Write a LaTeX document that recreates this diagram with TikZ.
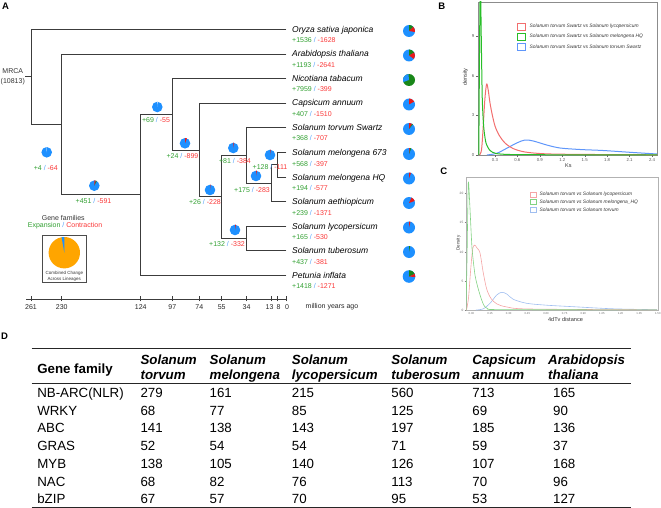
\documentclass[tikz,border=0pt]{standalone}
\usepackage{fontspec}
\setmainfont{Liberation Sans}

\definecolor{treegray}{RGB}{60,60,60}
\definecolor{gaincol}{RGB}{50,160,50}
\definecolor{losscol}{RGB}{250,55,55}
\definecolor{slashcol}{RGB}{80,160,250}
\definecolor{pieblue}{RGB}{30,144,255}
\definecolor{piegreen}{RGB}{25,135,25}
\definecolor{piered}{RGB}{235,25,25}
\definecolor{pieorange}{RGB}{255,165,0}
\definecolor{curveBred}{RGB}{242,110,110}
\definecolor{curveBgreen}{RGB}{40,190,40}
\definecolor{curveBblue}{RGB}{95,150,250}
\definecolor{curveCred}{RGB}{245,165,165}
\definecolor{curveCgreen}{RGB}{130,210,130}
\definecolor{curveCblue}{RGB}{160,190,240}

\newcommand{\gainloss}[2]{\textcolor{gaincol}{+#1}\ \textcolor{slashcol}{/}\ \textcolor{losscol}{-#2}}
\newcommand{\pieslice}[5]{%
  \fill [#5] (#1) -- ++({-(#3)}:#2)
  arc [start angle = {-(#3)}, end angle = {-(#4)}, radius = #2] -- cycle;}

\begin{document}
\begin{tikzpicture}[
    x = 1pt, y = -1pt,
    branch/.style = {draw = treegray, line width = 0.8pt, line cap = rect},
    tipname/.style = {anchor = base west, inner sep = 0pt,
      font = \fontsize{8.5}{10}\selectfont\itshape},
    tipcount/.style = {anchor = base west, inner sep = 0pt,
      font = \fontsize{7}{8}\selectfont},
    nodecount/.style = {inner sep = 0pt, font = \fontsize{7}{8}\selectfont},
    smalltext/.style = {inner sep = 0pt, text = black!80,
      font = \fontsize{7}{10}\selectfont},
    panel/.style = {inner sep = 0pt, font = \fontsize{9.5}{10}\selectfont\bfseries},
    plotframe/.style = {draw = black!45, line width = 0.4pt},
    tinylabel/.style = {inner sep = 0pt, text = black!65,
      font = \fontsize{4.3}{5}\selectfont},
    legendtext/.style = {anchor = west, inner sep = 0pt, text = black!80,
      font = \fontsize{4.9}{6}\selectfont},
    keybox/.style = {inner sep = 0pt, fill = white, line width = 0.9pt},
    densityB/.style = {line width = 1pt, line join = round},
    densityC/.style = {line width = 0.6pt, line join = round},
    tablehead/.style = {anchor = base west, inner sep = 0pt,
      font = \fontsize{13.3}{15}\selectfont\bfseries\itshape},
    tablecell/.style = {anchor = base west, inner sep = 0pt,
      font = \fontsize{13.3}{15}\selectfont},
    tablerule/.style = {draw = black!85, line width = 1.1pt},
    tablemidrule/.style = {draw = black!85, line width = 0.6pt}
    ]
    \useasboundingbox (0, 0) rectangle (661, 508);

    % ---------------- panel A: tree
    \node at (5.5, 6.7) [panel, name = panA] {A};

    \coordinate (tOry) at (286, 29.5);
    \coordinate (tAra) at (286, 54);
    \coordinate (tNic) at (286, 78.5);
    \coordinate (tCap) at (286, 103);
    \coordinate (tTor) at (286, 127.5);
    \coordinate (tM673) at (286, 152.5);
    \coordinate (tMHQ) at (286, 177);
    \coordinate (tAet) at (286, 201.5);
    \coordinate (tLyc) at (286, 226);
    \coordinate (tTub) at (286, 250.5);
    \coordinate (tPet) at (286, 275);

    \coordinate (n8) at (277, 164.75);
    \coordinate (n13) at (271, 183.1);
    \coordinate (n34a) at (246.5, 155.3);
    \coordinate (n34b) at (246.5, 238.25);
    \coordinate (n55) at (221.7, 196.8);
    \coordinate (n74) at (199.3, 149.9);
    \coordinate (n97) at (172.3, 114.2);
    \coordinate (n124) at (140.7, 194.6);
    \coordinate (n230) at (61.7, 124.3);
    \coordinate (n261) at (31, 76.9);

    \draw [branch] (n261) |- (tOry);
    \draw [branch] (n261) |- (n230);
    \draw [branch] (n230) |- (tAra);
    \draw [branch] (n230) |- (n124);
    \draw [branch] (n124) |- (n97);
    \draw [branch] (n124) |- (tPet);
    \draw [branch] (n97) |- (tNic);
    \draw [branch] (n97) |- (n74);
    \draw [branch] (n74) |- (tCap);
    \draw [branch] (n74) |- (n55);
    \draw [branch] (n55) |- (n34a);
    \draw [branch] (n55) |- (n34b);
    \draw [branch] (n34a) |- (tTor);
    \draw [branch] (n34a) |- (n13);
    \draw [branch] (n13) |- (n8);
    \draw [branch] (n13) |- (tAet);
    \draw [branch] (n8) |- (tM673);
    \draw [branch] (n8) |- (tMHQ);
    \draw [branch] (n34b) |- (tLyc);
    \draw [branch] (n34b) |- (tTub);

    \node at (12.8, 76.9) [smalltext, align = center, name = mrca] {MRCA\\(10813)};
    \draw [branch] (mrca.east) -- (n261);

    % species and their counts
    \node at (292, 32.5) [tipname, name = lOry] {Oryza sativa japonica};
    \node at (292, 43) [tipcount, name = cOry] {\gainloss{1536}{1628}};
    \node at (292, 57) [tipname, name = lAra] {Arabidopsis thaliana};
    \node at (292, 67.5) [tipcount, name = cAra] {\gainloss{1193}{2641}};
    \node at (292, 81.5) [tipname, name = lNic] {Nicotiana tabacum};
    \node at (292, 92) [tipcount, name = cNic] {\gainloss{7959}{399}};
    \node at (292, 106) [tipname, name = lCap] {Capsicum annuum};
    \node at (292, 116.5) [tipcount, name = cCap] {\gainloss{407}{1510}};
    \node at (292, 130.5) [tipname, name = lTor] {Solanum torvum Swartz};
    \node at (292, 141) [tipcount, name = cTor] {\gainloss{368}{707}};
    \node at (292, 155.5) [tipname, name = lM673] {Solanum melongena 673};
    \node at (292, 166) [tipcount, name = cM673] {\gainloss{568}{397}};
    \node at (292, 180) [tipname, name = lMHQ] {Solanum melongena HQ};
    \node at (292, 190.5) [tipcount, name = cMHQ] {\gainloss{194}{577}};
    \node at (292, 204.5) [tipname, name = lAet] {Solanum aethiopicum};
    \node at (292, 215) [tipcount, name = cAet] {\gainloss{239}{1371}};
    \node at (292, 229) [tipname, name = lLyc] {Solanum lycopersicum};
    \node at (292, 239.5) [tipcount, name = cLyc] {\gainloss{165}{530}};
    \node at (292, 253.5) [tipname, name = lTub] {Solanum tuberosum};
    \node at (292, 264) [tipcount, name = cTub] {\gainloss{437}{381}};
    \node at (292, 278) [tipname, name = lPet] {Petunia inflata};
    \node at (292, 288.5) [tipcount, name = cPet] {\gainloss{1418}{1271}};

    % pies of the species
    \coordinate (qOry) at (409, 31);
    \coordinate (qAra) at (409, 55.5);
    \coordinate (qNic) at (409, 80);
    \coordinate (qCap) at (409, 104.5);
    \coordinate (qTor) at (409, 129);
    \coordinate (qM673) at (409, 154);
    \coordinate (qMHQ) at (409, 178.5);
    \coordinate (qAet) at (409, 203);
    \coordinate (qLyc) at (409, 227.5);
    \coordinate (qTub) at (409, 252);
    \coordinate (qPet) at (409, 276.5);

    \fill [pieblue] (qOry) circle [radius = 6];
    \pieslice{qOry}{6}{45}{90}{piegreen}
    \pieslice{qOry}{6}{-10}{45}{piered}
    \fill [pieblue] (qAra) circle [radius = 6];
    \pieslice{qAra}{6}{30}{90}{piegreen}
    \pieslice{qAra}{6}{-35}{30}{piered}
    \fill [piegreen] (qNic) circle [radius = 6];
    \pieslice{qNic}{6}{95}{200}{pieblue}
    \fill [pieblue] (qCap) circle [radius = 6];
    \pieslice{qCap}{6}{30}{88}{piered}
    \fill [pieblue] (qTor) circle [radius = 6];
    \pieslice{qTor}{6}{58}{88}{piered}
    \pieslice{qTor}{6}{50}{58}{piegreen}
    \fill [pieblue] (qM673) circle [radius = 6];
    \pieslice{qM673}{6}{68}{82}{piegreen}
    \pieslice{qM673}{6}{82}{90}{piered}
    \fill [pieblue] (qMHQ) circle [radius = 6];
    \pieslice{qMHQ}{6}{70}{89}{piered}
    \fill [pieblue] (qAet) circle [radius = 6];
    \pieslice{qAet}{6}{20}{65}{piered}
    \fill [pieblue] (qLyc) circle [radius = 6];
    \pieslice{qLyc}{6}{76}{89}{piered}
    \fill [pieblue] (qTub) circle [radius = 6];
    \pieslice{qTub}{6}{78}{89}{piegreen}
    \fill [pieblue] (qPet) circle [radius = 6.3];
    \pieslice{qPet}{6.3}{25}{90}{piegreen}
    \pieslice{qPet}{6.3}{-5}{25}{piered}

    % pies and counts of the inner branches
    \coordinate (g4) at (46.7, 152.3);
    \coordinate (g451) at (94.3, 185.7);
    \coordinate (g69) at (157.3, 107);
    \coordinate (g24) at (185, 143.3);
    \coordinate (g26) at (210, 190);
    \coordinate (g81) at (233.3, 148);
    \coordinate (g132) at (235, 230);
    \coordinate (g175) at (256, 176);
    \coordinate (g128) at (270, 155);

    \fill [pieblue] (g4) circle [radius = 5.3];
    \pieslice{g4}{5.3}{88}{91}{white}
    \fill [pieblue] (g451) circle [radius = 5.3];
    \pieslice{g451}{5.3}{62}{74}{piegreen}
    \pieslice{g451}{5.3}{74}{90}{piered}
    \fill [pieblue] (g69) circle [radius = 5.3];
    \pieslice{g69}{5.3}{87}{91}{white}
    \fill [pieblue] (g24) circle [radius = 5.3];
    \pieslice{g24}{5.3}{68}{90}{piered}
    \fill [pieblue] (g26) circle [radius = 5.3];
    \pieslice{g26}{5.3}{84}{90}{piered}
    \fill [pieblue] (g81) circle [radius = 5.3];
    \pieslice{g81}{5.3}{80}{90}{piered}
    \fill [pieblue] (g132) circle [radius = 5.3];
    \pieslice{g132}{5.3}{80}{90}{piered}
    \fill [pieblue] (g175) circle [radius = 5.3];
    \pieslice{g175}{5.3}{80}{90}{piered}
    \fill [pieblue] (g128) circle [radius = 5.3];
    \pieslice{g128}{5.3}{82}{90}{piered}

    \node at (45.8, 167.7) [nodecount, name = c4] {\gainloss{4}{64}};
    \node at (93.5, 200.7) [nodecount, name = c451] {\gainloss{451}{591}};
    \node at (156, 120) [nodecount, name = c69] {\gainloss{69}{55}};
    \node at (182.5, 156) [nodecount, name = c24] {\gainloss{24}{899}};
    \node at (205, 201.5) [nodecount, name = c26] {\gainloss{26}{228}};
    \node at (235, 160.5) [nodecount, name = c81] {\gainloss{81}{384}};
    \node at (227, 244) [nodecount, name = c132] {\gainloss{132}{332}};
    \node at (252, 190) [nodecount, name = c175] {\gainloss{175}{283}};
    \node at (270, 166.7) [nodecount, name = c128] {\gainloss{128}{111}};

    % legend of the pies
    \node at (63.3, 218.3) [nodecount, text = black!80, name = legtitle] {Gene families};
    \node at (65, 225.5) [nodecount, name = legkey]
      {\textcolor{gaincol}{Expansion}\ \textcolor{slashcol}{/}\ \textcolor{losscol}{Contraction}};
    \node at (64.35, 259) [draw = black!70, line width = 0.6pt, inner sep = 0pt,
      minimum width = 43.3pt, minimum height = 46.6pt, name = legbox] {};
    \coordinate (qAll) at (64.3, 252.7);
    \fill [pieorange] (qAll) circle [radius = 15.7];
    \pieslice{qAll}{15.7}{90}{100}{pieblue}
    \node at (64.3, 273.3) [inner sep = 0pt, text = black!80,
      font = \fontsize{4.5}{5}\selectfont, name = legnote1] {Combined Change};
    \node at (64.3, 279) [inner sep = 0pt, text = black!80,
      font = \fontsize{4.5}{5}\selectfont, name = legnote2] {Across Lineages};

    % time axis
    \coordinate (axL) at (26.5, 299);
    \coordinate (axR) at (287, 299);
    \draw [branch, line width = 0.7pt] (axL) -- (axR);
    \foreach \x/\lx/\t in {31/31/261, 61.7/61.7/230, 140.7/140.7/124, 172.3/172.3/97,
        199.3/199.3/74, 221.7/221.7/55, 246.5/246.5/34, 271/269.5/13, 277/278.5/8,
        286.5/287/0} {
      \draw [branch, line width = 0.7pt] (\x, 296.5) -- (\x, 301);
      \node at (\lx, 306.7) [nodecount, text = black!85, name = tick\t] {\t};
    }
    \node at (332, 306.5) [nodecount, text = black!85, name = mya] {million years ago};

    % ---------------- panel B: Ks
    \node at (441.7, 6) [panel, name = panB] {B};
    \draw [plotframe] (478, 2) rectangle (657, 155);
    \foreach \d/\py in {0/155, 3/115.5, 6/76, 9/36.5} {
      \draw [black!60, line width = 0.4pt] (476, \py) -- (478, \py);
      \node at (474.5, \py) [tinylabel, anchor = east, name = bY\d] {\d};
    }
    \foreach \v [count = \i] in {0.3, 0.6, 0.9, 1.2, 1.5, 1.8, 2.1, 2.4} {
      \draw [black!60, line width = 0.4pt] ({472.5 + 74.8*\v}, 155) -- ({472.5 + 74.8*\v}, 156.8);
      \node at ({472.5 + 74.8*\v}, 160.3) [tinylabel, name = bX\i] {\v};
    }
    \node at (465.5, 77) [inner sep = 0pt, rotate = 90, text = black!80,
      font = \fontsize{5.5}{6}\selectfont, name = bYlab] {density};
    \node at (568.3, 165.5) [inner sep = 0pt, text = black!80,
      font = \fontsize{5.5}{6}\selectfont, name = bXlab] {Ks};

    \begin{scope}
      \clip (478, 2) rectangle (657, 155);
      \draw [densityB, curveBblue] plot [smooth, tension = 0.5] coordinates {
        (487,155) (496.7,153.3) (506.7,148.3) (516.7,143) (525,140) (533.3,141)
        (546.7,145) (560,148) (580,149.5) (603,150.5) (630,152.3) (657,154)};
      \draw [densityB, curveBred] plot [smooth, tension = 0.5] coordinates {
        (479.5,155) (481.5,150) (483,130) (484.8,100) (486.6,84) (488.2,90)
        (490,103) (492.3,115) (495,126) (499,135) (505,143) (513,148.5)
        (525,152) (545,153.8) (580,154.4) (657,154.8)};
      \draw [densityB, curveBgreen] plot [smooth, tension = 0.4] coordinates {
        (478.8,155) (479.6,40) (480.4,-20) (481.3,40) (482.3,100) (483.8,128)
        (486,143) (490,150.5) (496,153.5) (510,154.5) (560,154.8) (657,154.9)};
    \end{scope}

    \node at (521, 26.5) [keybox, draw = curveBred, minimum width = 8pt,
      minimum height = 7pt, name = kBred] {};
    \node at (521, 36.5) [keybox, draw = curveBgreen, minimum width = 8pt,
      minimum height = 7pt, name = kBgreen] {};
    \node at (521, 46.5) [keybox, draw = curveBblue, minimum width = 8pt,
      minimum height = 7pt, name = kBblue] {};
    \node at (529.5, 26.5) [legendtext, name = tBred]
      {\textit{Solanum torvum Swartz} vs \textit{Solanum lycopersicum}};
    \node at (529.5, 36.5) [legendtext, name = tBgreen]
      {\textit{Solanum torvum Swartz} vs \textit{Solanum melongena HQ}};
    \node at (529.5, 46.5) [legendtext, name = tBblue]
      {\textit{Solanum torvum Swartz} vs \textit{Solanum torvum Swartz}};

    % ---------------- panel C: 4dTv
    \node at (443.8, 171.7) [panel, name = panC] {C};
    \draw [plotframe, draw = black!30] (466, 177) rectangle (658, 310);
    \foreach \d/\py in {0/310, 5/281, 10/252, 15/222.5, 20/193} {
      \draw [black!50, line width = 0.3pt] (464.5, \py) -- (466, \py);
      \node at (463.5, \py) [inner sep = 0pt, anchor = east, text = black!60,
        font = \fontsize{3.2}{4}\selectfont, name = cY\d] {\d};
    }
    \foreach \v [count = \i] in {0.00, 0.15, 0.30, 0.45, 0.60, 0.75, 0.90,
        1.05, 1.20, 1.35, 1.50} {
      \node at ({471.4 + 124.3*\v}, 313.3) [inner sep = 0pt, text = black!60,
        font = \fontsize{2.8}{3}\selectfont, name = cX\i] {\v};
    }
    \node at (458.5, 243) [inner sep = 0pt, rotate = 90, text = black!80,
      font = \fontsize{4.5}{5}\selectfont, name = cYlab] {Density};
    \node at (565.5, 319.3) [inner sep = 0pt, text = black!80,
      font = \fontsize{5.6}{6}\selectfont, name = cXlab] {4dTv distance};

    \begin{scope}
      \clip (466, 177) rectangle (658, 310);
      \draw [densityC, curveCblue] plot [smooth, tension = 0.5] coordinates {
        (476,310) (483.3,308.8) (490,303.3) (496.7,295) (501.7,292.3)
        (506.7,294) (513.3,299.3) (526.7,303.3) (546.7,305.2) (573.3,306.7)
        (613.3,308.8) (657,309.7)};
      \draw [densityC, curveCred] plot [smooth, tension = 0.5] coordinates {
        (466.5,310) (468.5,298) (470.5,272) (472.5,250) (474.5,245) (477,248)
        (480,253) (483.3,273) (486.7,289) (491,298.5) (497,304) (507,307)
        (530,309) (657,309.9)};
      \draw [densityC, curveCgreen] plot [smooth, tension = 0.4] coordinates {
        (466,310) (467,260) (468.3,183) (469.8,205) (472,248) (475,275)
        (478,288) (481,298) (484,305.5) (488,308.8) (500,309.6) (657,309.9)};
    \end{scope}

    \node at (533, 194.5) [keybox, line width = 0.6pt, draw = curveCred,
      minimum width = 6pt, minimum height = 5pt, name = kCred] {};
    \node at (533, 202) [keybox, line width = 0.6pt, draw = curveCgreen,
      minimum width = 6pt, minimum height = 5pt, name = kCgreen] {};
    \node at (533, 209.5) [keybox, line width = 0.6pt, draw = curveCblue,
      minimum width = 6pt, minimum height = 5pt, name = kCblue] {};
    \node at (539.5, 194.5) [legendtext, name = tCred]
      {\textit{Solanum torvum vs Solanum lycopersicum}};
    \node at (539.5, 202) [legendtext, name = tCgreen]
      {\textit{Solanum torvum vs Solanum melongena\_HQ}};
    \node at (539.5, 209.5) [legendtext, name = tCblue]
      {\textit{Solanum torvum vs Solanum torvum}};

    % ---------------- panel D: table
    \node at (4.5, 336.7) [panel, name = panD] {D};
    \coordinate (ruleTL) at (31.6, 348.3);
    \coordinate (ruleTR) at (630.8, 348.3);
    \coordinate (ruleML) at (31.6, 383.3);
    \coordinate (ruleMR) at (630.8, 383.3);
    \coordinate (ruleBL) at (31.6, 507.2);
    \coordinate (ruleBR) at (630.8, 507.2);
    \draw [tablerule] (ruleTL) -- (ruleTR);
    \draw [tablemidrule] (ruleML) -- (ruleMR);
    \draw [tablerule] (ruleBL) -- (ruleBR);

    \node at (37.1, 373.1) [tablecell, font = \fontsize{13.3}{15}\selectfont\bfseries,
      name = hGene] {Gene family};
    \foreach \hx/\top/\bot [count = \i] in {140.4/Solanum/torvum,
        209.5/Solanum/melongena, 291.7/Solanum/lycopersicum,
        391.2/Solanum/tuberosum, 472.2/Capsicum/annuum,
        548/Arabidopsis/thaliana} {
      \node at (\hx, 364.1) [tablehead, name = hA\i] {\top};
      \node at (\hx, 379.8) [tablehead, name = hB\i] {\bot};
    }
    \foreach \fam/\a/\b/\c/\d/\e/\f [count = \r] in {
        NB-ARC(NLR)/279/161/215/560/713/165, WRKY/68/77/85/125/69/90,
        ABC/141/138/143/197/185/136, GRAS/52/54/54/71/59/37,
        MYB/138/105/140/126/107/168, NAC/68/82/76/113/70/96,
        bZIP/67/57/70/95/53/127} {
      \node at (37.1, {379.8 + 17.72*\r}) [tablecell, name = f\r] {\fam};
      \node at (140.4, {379.8 + 17.72*\r}) [tablecell, name = a\r] {\a};
      \node at (209.5, {379.8 + 17.72*\r}) [tablecell, name = b\r] {\b};
      \node at (291.7, {379.8 + 17.72*\r}) [tablecell, name = c\r] {\c};
      \node at (391.2, {379.8 + 17.72*\r}) [tablecell, name = d\r] {\d};
      \node at (472.2, {379.8 + 17.72*\r}) [tablecell, name = e\r] {\e};
      \node at (553, {379.8 + 17.72*\r}) [tablecell, name = g\r] {\f};
    }
  \end{tikzpicture}
\end{document}
